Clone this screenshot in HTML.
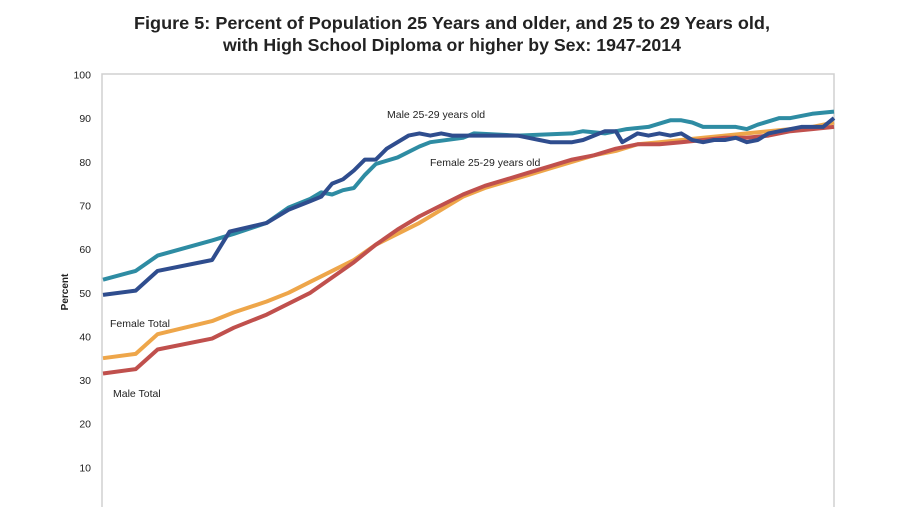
<!DOCTYPE html>
<html><head><meta charset="utf-8"><style>
body{margin:0;background:#fff;width:900px;height:507px;overflow:hidden;font-family:"Liberation Sans",sans-serif}
</style></head><body>
<svg id="c" width="900" height="507" xmlns="http://www.w3.org/2000/svg">
<text x="452" y="29" text-anchor="middle" font-size="17.5" font-weight="bold" fill="#222" textLength="636" lengthAdjust="spacingAndGlyphs">Figure 5: Percent of Population 25 Years and older, and 25 to 29 Years old,</text>
<text x="452" y="51" text-anchor="middle" font-size="17.5" font-weight="bold" fill="#222" textLength="458" lengthAdjust="spacingAndGlyphs">with High School Diploma or higher by Sex: 1947-2014</text>
<rect x="102" y="74" width="732" height="440" fill="none" stroke="#d0d0d0" stroke-width="1.5"/>
<text transform="translate(68,292) rotate(-90)" text-anchor="middle" font-size="10" font-weight="bold" fill="#222">Percent</text>
<g id="ticks"></g>
<g id="lines"></g>
<text x="387" y="118" font-size="10.5" fill="#222">Male 25-29 years old</text>
<text x="430" y="166" font-size="10.5" fill="#222">Female 25-29 years old</text>
<text x="110" y="327" font-size="10.5" fill="#222">Female Total</text>
<text x="113" y="397" font-size="10.5" fill="#222">Male Total</text>
</svg>
<script>
const yTicks=[10,20,30,40,50,60,70,80,90,100];
const femYoungYears=[1947,1950,1952,1957,1959,1962,1964,1966,1967,1968,1969,1970,1971,1972,1974,1976,1977,1980,1981,1985,1990,1991,1993,1995,1997,1999,2000,2001,2002,2005,2006,2007,2009,2010,2012,2014];
const femYoungVals=[53,55,58.5,62,63.5,66,69.5,71.5,73,72.5,73.5,74,77,79.5,81,83.5,84.5,85.5,86.5,86,86.5,87,86.5,87.5,88,89.5,89.5,89,88,88,87.5,88.5,90,90,91,91.5];
const maleYoungYears=[1947,1950,1952,1957,1958.6,1962,1964,1966,1967,1968,1969,1970,1971,1972,1973,1975,1976,1977,1978,1979,1980,1985,1986,1987,1988,1990,1991,1992,1993,1994,1994.6,1996,1997,1998,1999,2000,2001,2002,2003,2004,2005,2006,2007,2008,2009,2010,2011,2012,2013,2014];
const maleYoungVals=[49.5,50.5,55,57.5,64,66,69,71,72,75,76,78,80.5,80.5,83,86,86.5,86,86.5,86,86,86,85.5,85,84.5,84.5,85,86,87,87,84.5,86.5,86,86.5,86,86.5,85,84.5,85,85,85.5,84.5,85,86.5,87,87.5,88,88,88,90];
const totYears=[1947,1950,1952,1957,1959,1962,1964,1966,1968,1970,1972,1974,1976,1978,1980,1982,1984,1986,1988,1990,1992,1994,1996,1998,2000,2002,2004,2006,2008,2010,2012,2014];
const femTotVals=[35,36,40.5,43.5,45.5,48,50,52.5,55,57.5,61,63.5,66,69,72,74,75.5,77,78.5,80,81.5,82.5,84,84.5,85,85.5,86,86.5,87,87.5,88,89];
const maleTotVals=[31.5,32.5,37,39.5,42,45,47.5,50,53.5,57,61,64.5,67.5,70,72.5,74.5,76,77.5,79,80.5,81.5,83,84,84,84.5,85,85.5,85.5,86,87,87.5,88];
const NS="http://www.w3.org/2000/svg";
const X=y=>103+(y-1947)*(731/67);
const Y=v=>511-v*4.365;
const tg=document.getElementById('ticks');
yTicks.forEach(t=>{const e=document.createElementNS(NS,'text');
e.setAttribute('x',91);e.setAttribute('y',Y(t)+4);e.setAttribute('text-anchor','end');e.setAttribute('font-size','10.5');e.setAttribute('fill','#222');


e.textContent=t;tg.appendChild(e);});
const lg=document.getElementById('lines');
function line(xs,vs,color,name){const p=document.createElementNS(NS,'polyline');
p.setAttribute('points',xs.map((x,i)=>X(x).toFixed(1)+','+Y(vs[i]).toFixed(1)).join(' '));
p.setAttribute('fill','none');p.setAttribute('stroke',color);p.setAttribute('stroke-width','4');p.setAttribute('stroke-linejoin','round');


lg.appendChild(p);}
line(totYears,femTotVals,'#eea64a','line-female-total');
line(totYears,maleTotVals,'#c0504d','line-male-total');
line(femYoungYears,femYoungVals,'#2e8ca3','line-female-25-29');
line(maleYoungYears,maleYoungVals,'#2f4d8e','line-male-25-29');
</script>
</body></html>
